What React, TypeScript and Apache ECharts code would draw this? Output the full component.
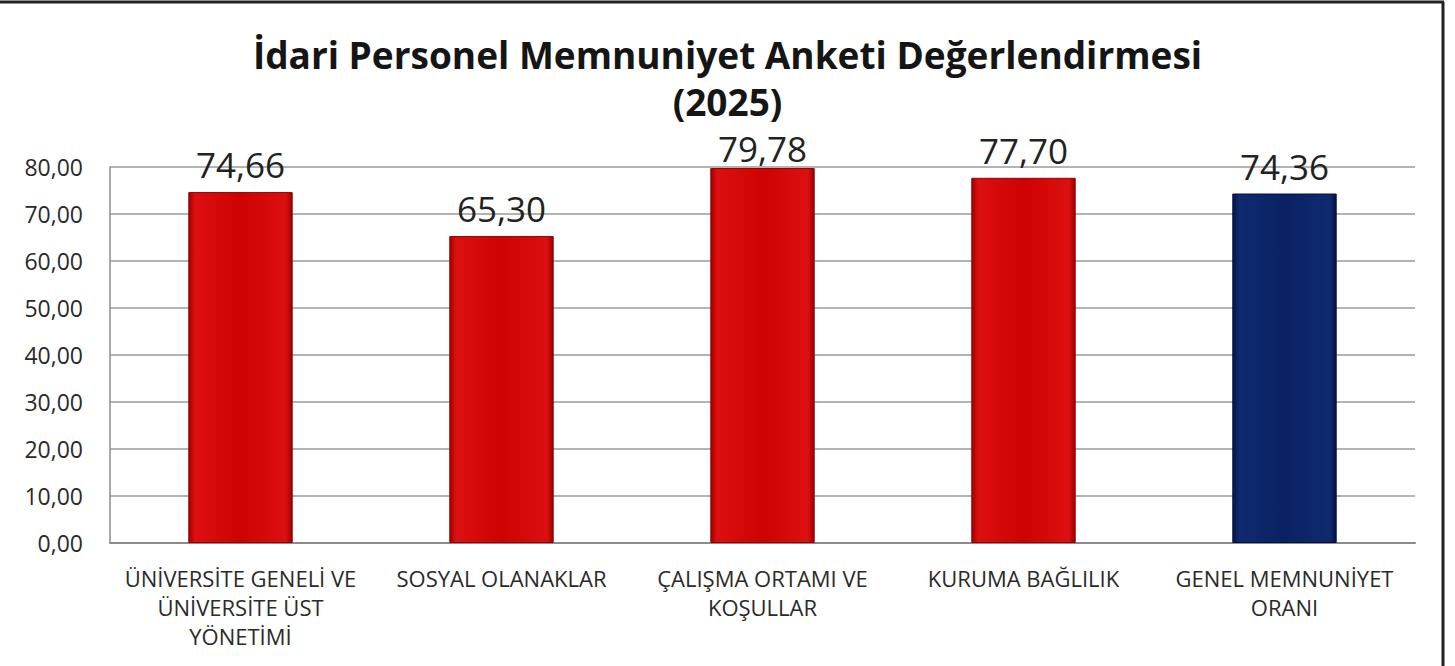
import React, { useEffect, useRef } from "react";
import * as echarts from "echarts";

const titleLine1 = "İdari Personel Memnuniyet Anketi Değerlendirmesi";
const titleLine2 = "(2025)";
const categories = [
  "ÜNİVERSİTE GENELİ VE\nÜNİVERSİTE ÜST\nYÖNETİMİ",
  "SOSYAL OLANAKLAR",
  "ÇALIŞMA ORTAMI VE\nKOŞULLAR",
  "KURUMA BAĞLILIK",
  "GENEL MEMNUNİYET\nORANI",
];
const values = [74.66, 65.3, 79.78, 77.7, 74.36];
const barKinds = ["red", "red", "red", "red", "blue"];

const FONT = "'Open Sans', 'Noto Sans', sans-serif";

function grad(kind: string) {
  const stops =
    kind === "blue"
      ? [
          { offset: 0, color: "#051443" },
          { offset: 0.06, color: "#0f2a70" },
          { offset: 0.5, color: "#0a2262" },
          { offset: 0.94, color: "#0f2a70" },
          { offset: 1, color: "#041040" },
        ]
      : [
          { offset: 0, color: "#a00000" },
          { offset: 0.06, color: "#dc1010" },
          { offset: 0.5, color: "#cf0202" },
          { offset: 0.94, color: "#dc1010" },
          { offset: 1, color: "#9a0000" },
        ];
  return new echarts.graphic.LinearGradient(0, 0, 1, 0, stops);
}

const titleStyle = {
  fontFamily: FONT,
  fontWeight: "bold",
  fontSize: 37,
  lineHeight: 37,
  color: "#151515",
};

export default function App() {
  const ref = useRef<HTMLDivElement>(null);
  useEffect(() => {
    if (!ref.current) return;
    const chart = echarts.init(ref.current, null, { renderer: "svg" });
    const maxVal = Math.max(...values);
    chart.setOption({
      animation: false,
      backgroundColor: "#ffffff",
      title: [
        { text: titleLine1, left: "center", top: 36, padding: 0, textStyle: titleStyle },
        { text: titleLine2, left: "center", top: 83, padding: 0, textStyle: titleStyle },
      ],
      graphic: [
        {
          type: "line",
          shape: { x1: 0, y1: 2, x2: 1444, y2: 2 },
          style: { stroke: "#222", lineWidth: 3 },
        },
        {
          type: "line",
          shape: { x1: 1443, y1: 2, x2: 1443, y2: 666 },
          style: { stroke: "#222", lineWidth: 3 },
        },
      ],
      grid: { left: 110, right: 40, top: 167, bottom: 123 },
      xAxis: {
        type: "category",
        data: categories,
        axisTick: { show: false },
        axisLine: { lineStyle: { color: "#8c8c8c", width: 2 } },
        axisLabel: {
          interval: 0,
          margin: 20,
          fontFamily: FONT,
          fontSize: 22,
          lineHeight: 29,
          color: "#2a2a2a",
        },
      },
      yAxis: {
        type: "value",
        min: 0,
        max: 80,
        interval: 10,
        axisLine: { show: true, lineStyle: { color: "#8c8c8c", width: 1.5 } },
        axisTick: { show: false },
        splitLine: { lineStyle: { color: "#9a9a9a", width: 1.5 } },
        axisLabel: {
          margin: 27,
          fontFamily: FONT,
          fontSize: 23,
          color: "#2a2a2a",
          formatter: (v: number) => v.toFixed(2).replace(".", ","),
        },
      },
      series: [
        {
          type: "bar",
          barWidth: "40%",
          data: values.map((v, i) => ({
            value: v,
            itemStyle: {
              color: grad(barKinds[i]),
              borderColor: barKinds[i] === "blue" ? "#041040" : "#900000",
              borderWidth: 1,
            },
            label: v === maxVal ? { distance: 2 } : undefined,
          })),
          label: {
            show: true,
            position: "top",
            distance: 10,
            fontFamily: FONT,
            fontSize: 35,
            lineHeight: 35,
            color: "#222",
            formatter: (p: any) => Number(p.value).toFixed(2).replace(".", ","),
          },
        },
      ],
    });
    return () => chart.dispose();
  }, []);
  return (
    <div
      ref={ref}
      style={{ position: "absolute", left: 0, top: 0, width: 1455, height: 666 }}
    />
  );
}
